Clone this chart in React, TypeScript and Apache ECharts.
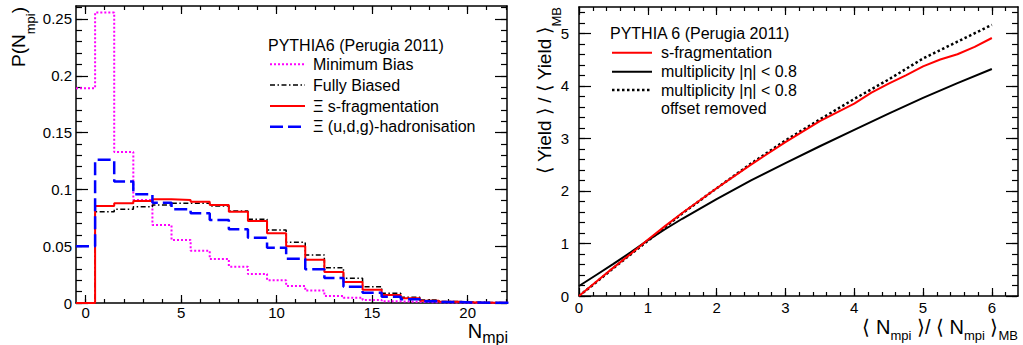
import React, { useEffect, useRef } from "react";
import * as echarts from "echarts";

// ---------- Left panel: P(N_mpi) histograms (bin centres 0..22) ----------
const nMpi = [0, 1, 2, 3, 4, 5, 6, 7, 8, 9, 10, 11, 12, 13, 14, 15, 16, 17, 18, 19, 20, 21, 22];
const pMinimumBias = [0.189, 0.2556, 0.133, 0.0907, 0.0687, 0.0555, 0.046, 0.0387, 0.032, 0.0255, 0.02, 0.015, 0.0109, 0.0062, 0.0047, 0.0026, 0.0015, 0.001, 0.0006, 0.0004, 0.0002, 0.0001, 0.0001];
const pFullyBiased = [0, 0.0804, 0.0825, 0.0848, 0.0863, 0.0877, 0.0877, 0.0854, 0.081, 0.0737, 0.0643, 0.0534, 0.0423, 0.031, 0.0217, 0.0144, 0.0085, 0.005, 0.0026, 0.0013, 0.0007, 0.0004, 0.0002];
const pXiSFrag = [0, 0.0854, 0.0877, 0.0898, 0.0913, 0.0907, 0.0892, 0.0863, 0.0804, 0.0722, 0.0613, 0.05, 0.038, 0.0273, 0.0185, 0.0117, 0.007, 0.0041, 0.002, 0.001, 0.0005, 0.0002, 0.0001];
const pXiUdg = [0.05, 0.126, 0.107, 0.0957, 0.0883, 0.0825, 0.079, 0.073, 0.065, 0.0575, 0.0487, 0.039, 0.0297, 0.022, 0.0144, 0.009, 0.0056, 0.0032, 0.0016, 0.0008, 0.0004, 0.0002, 0.0001];

const leftXTicks = [0, 5, 10, 15, 20];
const leftYTicks = [0, 0.05, 0.1, 0.15, 0.2, 0.25];

// ---------- Right panel: <Yield>/<Yield>_MB vs <N_mpi>/<N_mpi>_MB ----------
const sFragX = [0, 0.25, 0.5, 0.75, 1, 1.25, 1.5, 2, 2.5, 3, 3.5, 4, 4.25, 4.5, 4.75, 5, 5.25, 5.5, 5.75, 6];
const sFragY = [0, 0.27, 0.54, 0.8, 1.07, 1.33, 1.58, 2.05, 2.5, 2.93, 3.33, 3.66, 3.87, 4.04, 4.2, 4.37, 4.5, 4.6, 4.74, 4.91];
const multX = [0, 0.25, 0.5, 0.75, 1, 1.25, 1.5, 2, 2.5, 3, 3.5, 4, 4.5, 5, 5.5, 6];
const multY = [0.19, 0.4, 0.61, 0.83, 1.06, 1.27, 1.47, 1.845, 2.2, 2.53, 2.85, 3.16, 3.47, 3.77, 4.05, 4.32];
const offsetX = [0, 0.25, 0.5, 0.75, 1, 1.5, 2, 2.5, 3, 3.5, 4, 4.5, 5, 5.5, 6];
const offsetY = [0, 0.26, 0.53, 0.79, 1.05, 1.57, 2.05, 2.52, 2.96, 3.36, 3.75, 4.12, 4.52, 4.84, 5.16];

const rightXTicks = [0, 1, 2, 3, 4, 5, 6];
const rightYTicks = [0, 1, 2, 3, 4, 5];

const FONT = "'Liberation Sans', Arial, Helvetica, sans-serif";

const S_MB = { color: "#ff00ff", width: 2, dash: [2, 2] };
const S_FB = { color: "#000000", width: 1.5, dash: [5, 2.5, 1.5, 2.5] };
const S_SF = { color: "#ff0000", width: 2, dash: null as number[] | null };
const S_UDG = { color: "#0000ff", width: 2.5, dash: [13, 5] };
const S_R_SF = { color: "#ff0000", width: 2, dash: null as number[] | null };
const S_R_MULT = { color: "#000000", width: 2, dash: null as number[] | null };
const S_R_OFF = { color: "#000000", width: 2.5, dash: [2.5, 2.5] };

function minorRange(step: number, max: number) {
  const out: number[] = [];
  for (let i = 0; i * step <= max + 1e-9; i++) out.push(Math.round(i * step * 1000) / 1000);
  return out;
}

function axisSet(
  kind: "x" | "y",
  gridIndex: number,
  min: number,
  max: number,
  majors: number[],
  minors: number[],
  majorLen: number,
  minorLen: number,
  labelMargin: number
) {
  const positions = kind === "x" ? ["bottom", "top"] : ["left", "right"];
  const out: any[] = [];
  positions.forEach((pos, pi) => {
    out.push({
      type: "value",
      gridIndex,
      position: pos,
      min,
      max,
      axisLine: { show: true, onZero: false, lineStyle: { color: "#000", width: 1.5 } },
      axisTick: { show: true, inside: true, length: majorLen, customValues: majors, lineStyle: { color: "#000", width: 1.2 } },
      axisLabel: {
        show: pi === 0,
        customValues: majors,
        margin: labelMargin,
        color: "#000",
        fontSize: 15,
        fontFamily: FONT,
        formatter: (v: number) => String(v),
      },
      splitLine: { show: false },
      minorTick: { show: false },
    });
    out.push({
      type: "value",
      gridIndex,
      position: pos,
      min,
      max,
      axisLine: { show: false, onZero: false },
      axisTick: { show: true, inside: true, length: minorLen, customValues: minors, lineStyle: { color: "#000", width: 1.2 } },
      axisLabel: { show: false },
      splitLine: { show: false },
    });
  });
  return out;
}

function lineStyleOf(s: { color: string; width: number; dash: number[] | null }) {
  return { color: s.color, width: s.width, type: s.dash ? s.dash : "solid" };
}

function histData(vals: number[]) {
  const pts: number[][] = vals.map((v, i) => [nMpi[i] - 0.5, v]);
  const last = vals.length - 1;
  pts.push([nMpi[last] + 0.5, vals[last]]);
  return pts;
}

function pairs(xs: number[], ys: number[]) {
  return xs.map((x, i) => [x, ys[i]]);
}

function legendRow(x1: number, x2: number, textX: number, y: number, s: any, label: string) {
  return [
    {
      type: "line",
      silent: true,
      shape: { x1, y1: y, x2, y2: y },
      style: { stroke: s.color, lineWidth: s.width, lineDash: s.dash || null },
    },
    {
      type: "text",
      silent: true,
      x: textX,
      y,
      style: { text: label, fill: "#000", fontSize: 16, fontFamily: FONT, align: "left", verticalAlign: "middle" },
    },
  ];
}

function plainText(text: string, x: number, y: number, size = 16) {
  return {
    type: "text",
    silent: true,
    x,
    y,
    style: { text, fill: "#000", fontSize: size, fontFamily: FONT, align: "left", verticalAlign: "middle" },
  };
}

function richTitle(text: string, x: number, y: number, mainSize: number, subSize: number, subLine: number, rotated: boolean) {
  return {
    type: "text",
    silent: true,
    x,
    y,
    rotation: rotated ? Math.PI / 2 : 0,
    style: {
      text,
      fill: "#000",
      align: "right",
      verticalAlign: "top",
      fontFamily: FONT,
      fontSize: mainSize,
      rich: {
        m: { fontSize: mainSize, fontFamily: FONT, fill: "#000", verticalAlign: "top" },
        s: { fontSize: subSize, fontFamily: FONT, fill: "#000", verticalAlign: "bottom", lineHeight: subLine },
      },
    },
  };
}

function buildOption() {
  const xAxes = [
    ...axisSet("x", 0, -0.5, 22.06, leftXTicks, minorRange(1, 22.06), 8, 4, 2),
    ...axisSet("x", 1, 0, 6.38, rightXTicks, minorRange(0.2, 6.38), 8, 4, 4),
  ];
  const yAxes = [
    ...axisSet("y", 0, 0, 0.2614, leftYTicks, minorRange(0.01, 0.2614), 12, 6, 4),
    ...axisSet("y", 1, 0, 5.5, rightYTicks, minorRange(0.2, 5.5), 12, 6, 10),
  ];

  const histSeries = (name: string, vals: number[], s: any) => ({
    name,
    type: "line",
    xAxisIndex: 0,
    yAxisIndex: 0,
    step: "end",
    symbol: "none",
    silent: true,
    data: histData(vals),
    lineStyle: lineStyleOf(s),
  });
  const ratioSeries = (name: string, xs: number[], ys: number[], s: any) => ({
    name,
    type: "line",
    xAxisIndex: 4,
    yAxisIndex: 4,
    symbol: "none",
    silent: true,
    data: pairs(xs, ys),
    lineStyle: lineStyleOf(s),
  });

  const graphics: any[] = [
    plainText("PYTHIA6 (Perugia 2011)", 268, 45),
    ...legendRow(270, 305, 313, 64.3, S_MB, "Minimum Bias"),
    ...legendRow(270, 305, 313, 85, S_FB, "Fully Biased"),
    ...legendRow(270, 305, 313, 106, S_SF, "Ξ s-fragmentation"),
    ...legendRow(270, 305, 313, 126.7, S_UDG, "Ξ (u,d,g)-hadronisation"),
    plainText("PYTHIA 6 (Perugia 2011)", 610, 33),
    ...legendRow(612, 652, 661, 52.7, S_R_SF, "s-fragmentation"),
    ...legendRow(612, 652, 661, 71.7, S_R_MULT, "multiplicity |η| < 0.8"),
    ...legendRow(612, 652, 661, 90, S_R_OFF, "multiplicity |η| < 0.8"),
    plainText("offset removed", 661, 108.3),
    richTitle("{m|P(N}{s|mpi}{m|)}", 9, 7, 19, 13, 27.5, true),
    richTitle("{m|N}{s|mpi}", 508, 321, 20, 16, 24, false),
    richTitle("{m|⟨ Yield ⟩ / ⟨ Yield ⟩}{s|MB}", 534.5, 7, 19, 13, 28, true),
    richTitle("{m|⟨ N}{s|mpi}{m| ⟩/ ⟨ N}{s|mpi}{m| ⟩}{s|MB}", 1018, 316.5, 20, 13, 25, false),
  ];

  return {
    animation: false,
    backgroundColor: "#ffffff",
    grid: [
      { left: 76, top: 6, width: 431, height: 297, outerBoundsMode: "none", containLabel: false },
      { left: 579, top: 7, width: 439, height: 289, outerBoundsMode: "none", containLabel: false },
    ],
    xAxis: xAxes,
    yAxis: yAxes,
    series: [
      histSeries("Minimum Bias", pMinimumBias, S_MB),
      histSeries("Fully Biased", pFullyBiased, S_FB),
      histSeries("Ξ s-fragmentation", pXiSFrag, S_SF),
      histSeries("Ξ (u,d,g)-hadronisation", pXiUdg, S_UDG),
      ratioSeries("multiplicity |η| < 0.8 offset removed", offsetX, offsetY, S_R_OFF),
      ratioSeries("multiplicity |η| < 0.8", multX, multY, S_R_MULT),
      ratioSeries("s-fragmentation", sFragX, sFragY, S_R_SF),
    ],
    graphic: { elements: graphics },
  };
}

export default function App() {
  const ref = useRef<HTMLDivElement>(null);
  useEffect(() => {
    if (!ref.current) return;
    const chart = echarts.init(ref.current, null, { renderer: "svg", width: 1023, height: 345 });
    chart.setOption(buildOption() as any);
    return () => chart.dispose();
  }, []);
  return (
    <div
      ref={ref}
      style={{ position: "fixed", left: 0, top: 0, width: 1023, height: 345, background: "#fff" }}
    />
  );
}
